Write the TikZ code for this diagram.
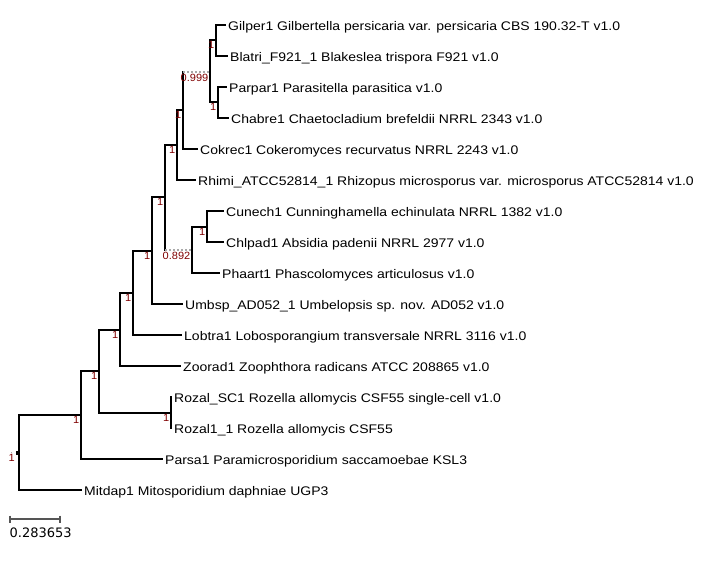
\documentclass[tikz,border=0pt]{standalone}
\usepackage{fontspec}
\setmainfont{Liberation Sans}
\newfontfamily\leaffont[FakeStretch=1.12]{Liberation Sans}
\newfontfamily\supfont[FakeStretch=1.05]{Liberation Sans}
\newfontfamily\scalefont{DejaVu Sans}
\definecolor{suprd}{HTML}{800000}
\definecolor{dotgr}{HTML}{A8A8A8}
\definecolor{barg}{HTML}{555555}
\tikzset{
  br/.style={line width=2pt, black, line cap=rect},
  dotbr/.style={line width=2pt, dotgr, dash pattern=on 1.5pt off 2.5pt},
  leaf/.style={anchor=west, inner xsep=3pt, inner ysep=0pt, text height=10pt, text depth=0pt, font=\leaffont\fontsize{12.5}{14}\selectfont},
  suplab/.style={anchor=north east, inner sep=0pt, text=suprd, font=\supfont\fontsize{10.5}{11}\selectfont},
}
\begin{document}
\begin{tikzpicture}[x=1pt,y=-1pt]
\useasboundingbox[fill=white] (0,0) rectangle (705,566);
% internal nodes
\coordinate (nGB) at (216,40);
\coordinate (nPC) at (218,102);
\coordinate (nA) at (210,72);
\coordinate (nB) at (183,110);
\coordinate (nC) at (177,145);
\coordinate (nCC) at (207,227);
\coordinate (nD) at (192,250);
\coordinate (nE) at (165,197);
\coordinate (nF) at (152,251);
\coordinate (nG) at (133,293);
\coordinate (nH) at (120,330);
\coordinate (nR) at (171,413);
\coordinate (nI) at (99,371);
\coordinate (nJ) at (81,415);
\coordinate (root) at (19,453);
% leaves
\node[leaf] (gil) at (225,25) {Gilper1 Gilbertella persicaria var. persicaria CBS 190.32-T v1.0};
\node[leaf] (bla) at (227,56) {Blatri\_F921\_1 Blakeslea trispora F921 v1.0};
\node[leaf] (par) at (226,87) {Parpar1 Parasitella parasitica v1.0};
\node[leaf] (cha) at (228,118) {Chabre1 Chaetocladium brefeldii NRRL 2343 v1.0};
\node[leaf] (cok) at (197,149) {Cokrec1 Cokeromyces recurvatus NRRL 2243 v1.0};
\node[leaf] (rhi) at (195,180) {Rhimi\_ATCC52814\_1 Rhizopus microsporus var. microsporus ATCC52814 v1.0};
\node[leaf] (cun) at (223,211) {Cunech1 Cunninghamella echinulata NRRL 1382 v1.0};
\node[leaf] (chl) at (223,242) {Chlpad1 Absidia padenii NRRL 2977 v1.0};
\node[leaf] (pha) at (219,273) {Phaart1 Phascolomyces articulosus v1.0};
\node[leaf] (umb) at (182,304) {Umbsp\_AD052\_1 Umbelopsis sp. nov. AD052 v1.0};
\node[leaf] (lob) at (181,335) {Lobtra1 Lobosporangium transversale NRRL 3116 v1.0};
\node[leaf] (zoo) at (180,366) {Zoorad1 Zoophthora radicans ATCC 208865 v1.0};
\node[leaf] (rsc) at (171,397) {Rozal\_SC1 Rozella allomycis CSF55 single-cell v1.0};
\node[leaf] (r11) at (171,428) {Rozal1\_1 Rozella allomycis CSF55};
\node[leaf] (prs) at (162,459) {Parsa1 Paramicrosporidium saccamoebae KSL3};
\node[leaf] (mit) at (81,490) {Mitdap1 Mitosporidium daphniae UGP3};
% branches
\draw[br] (nGB) |- (gil.west);
\draw[br] (nGB) |- (bla.west);
\draw[br] (nPC) |- (par.west);
\draw[br] (nPC) |- (cha.west);
\draw[br] (nA) |- (nGB);
\draw[br] (nA) |- (nPC);
\draw[br] (nB) -- (nB |- nA);
\draw[dotbr] (nB |- nA) -- (nA);
\draw[br] (nB) |- (cok.west);
\draw[br] (nC) |- (nB);
\draw[br] (nC) |- (rhi.west);
\draw[br] (nCC) |- (cun.west);
\draw[br] (nCC) |- (chl.west);
\draw[br] (nD) |- (nCC);
\draw[br] (nD) |- (pha.west);
\draw[br] (nE) |- (nC);
\draw[br] (nE) -- (nE |- nD);
\draw[dotbr] (nE |- nD) -- (nD);
\draw[br] (nF) |- (nE);
\draw[br] (nF) |- (umb.west);
\draw[br] (nG) |- (nF);
\draw[br] (nG) |- (lob.west);
\draw[br] (nH) |- (nG);
\draw[br] (nH) |- (zoo.west);
\draw[br] (nR) -- (rsc.west);
\draw[br] (nR) -- (r11.west);
\draw[br] (nI) |- (nH);
\draw[br] (nI) |- (nR);
\draw[br] (nJ) |- (nI);
\draw[br] (nJ) |- (prs.west);
\draw[br] (root) |- (nJ);
\draw[br] (root) |- (mit.west);
% root marker
\fill[black] (15.5,451) rectangle (18.5,455);
\fill[dotgr] (10.5,451.5) rectangle (12,453);
% support labels
\node[suplab] (sGB) at ([xshift=-1.5pt,yshift=-1.5pt]nGB) {1};
\node[suplab] (sPC) at ([xshift=-1.5pt,yshift=-1.5pt]nPC) {1};
\node[suplab] (sA) at ([xshift=-1.5pt,yshift=-2pt]nA) {0.999};
\node[suplab] (sB) at ([xshift=-1.5pt,yshift=-1.5pt]nB) {1};
\node[suplab] (sC) at ([xshift=-1.5pt,yshift=-1.5pt]nC) {1};
\node[suplab] (sCC) at ([xshift=-1.5pt,yshift=-1.5pt]nCC) {1};
\node[suplab] (sD) at ([xshift=-1.5pt,yshift=-2pt]nD) {0.892};
\node[suplab] (sE) at ([xshift=-1.5pt,yshift=-1.5pt]nE) {1};
\node[suplab] (sF) at ([xshift=-1.5pt,yshift=-1.5pt]nF) {1};
\node[suplab] (sG) at ([xshift=-1.5pt,yshift=-1.5pt]nG) {1};
\node[suplab] (sH) at ([xshift=-1.5pt,yshift=-1.5pt]nH) {1};
\node[suplab] (sR) at ([xshift=-1.5pt,yshift=-1.5pt]nR) {1};
\node[suplab] (sI) at ([xshift=-1.5pt,yshift=-1.5pt]nI) {1};
\node[suplab] (sJ) at ([xshift=-1.5pt,yshift=-1.5pt]nJ) {1};
\node[suplab] (sRoot) at ([xshift=-4pt,yshift=-1.5pt]root) {1};
% scale bar
\coordinate (sb1) at (10,519);
\coordinate (sb2) at (60,519);
\draw[barg, line width=1.2pt] (sb1) -- (sb2);
\draw[barg, line width=1.2pt] ([yshift=3.5pt]sb1) -- ([yshift=-3.5pt]sb1);
\draw[barg, line width=1.2pt] ([yshift=3.5pt]sb2) -- ([yshift=-3.5pt]sb2);
\node[anchor=base west, inner sep=0pt, font=\scalefont\fontsize{13}{14}\selectfont] (sbt) at (9.5,537) {0.283653};
\end{tikzpicture}
\end{document}
